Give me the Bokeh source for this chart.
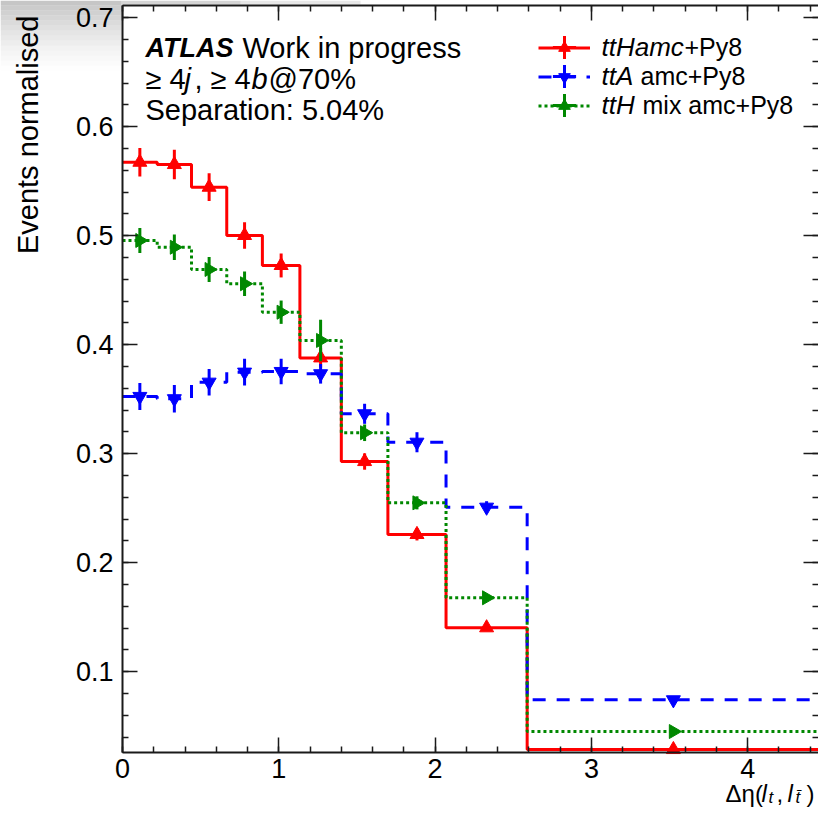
import math
from bokeh.plotting import figure
from bokeh.models import (Range1d, LinearAxis, SingleIntervalTicker, Label,
                          Legend, LegendItem, CustomJSTickFormatter, BoxAnnotation)
from bokeh.embed import file_html
from bokeh.resources import INLINE

# ---------------- data ----------------
bin_edges = [0.0, 0.222, 0.4415, 0.667, 0.895, 1.135, 1.40, 1.698, 2.07, 2.589, 4.46]

tth_amc = [0.5675, 0.5654, 0.5446, 0.5003, 0.4728, 0.388, 0.2929, 0.226, 0.1404, 0.0287]
tth_amc_err = [0.013, 0.0135, 0.0127, 0.0122, 0.011, 0.009, 0.0075, 0.0055, 0.003, 0.002]

tta_amc = [0.3526, 0.3505, 0.3657, 0.3749, 0.3755, 0.3734, 0.3367, 0.3106, 0.251, 0.0743]
tta_amc_err = [0.0124, 0.0127, 0.0122, 0.0122, 0.0117, 0.009, 0.0092, 0.0092, 0.0055, 0.003]

tth_mix = [0.4957, 0.4895, 0.4691, 0.456, 0.4299, 0.404, 0.3193, 0.255, 0.1679, 0.0452]
tth_mix_err = [0.0115, 0.0117, 0.0115, 0.0112, 0.0107, 0.019, 0.0076, 0.006, 0.003, 0.002]

x_ticks_interval = 1
y_ticks_interval = 0.1

# visible axis extents (the picture is a crop of a larger canvas)
x_lo, x_hi = 0.0, 4.453
y_lo, y_hi = 0.02596, 0.71128

FONT = "Liberation Sans"

centers = [(a + b) / 2 for a, b in zip(bin_edges[:-1], bin_edges[1:])]

W, H = 818, 825
FX0, FX1, FY0, FY1 = 122, 818, 752, 5          # frame box in page pixels
sx = (x_hi - x_lo) / (FX1 - FX0)
sy = (y_hi - y_lo) / (FY0 - FY1)

p = figure(width=W, height=H,
           x_range=Range1d(x_lo - FX0 * sx, x_hi + (W - FX1) * sx),
           y_range=Range1d(y_lo - (H - FY0) * sy, y_hi + FY1 * sy),
           x_axis_type=None, y_axis_type=None,
           output_backend="svg", toolbar_location=None,
           min_border_left=0, min_border_right=0,
           min_border_top=0, min_border_bottom=0)
p.outline_line_color = None
p.background_fill_color = "white"
p.border_fill_color = "white"

# faint grey shading in the top-left corner of the screenshot
for k in range(14):
    a = 0.6 * (1 - k / 14.0) ** 1.4
    p.add_layout(BoxAnnotation(left=0, right=FX0 - 1, top=H - 5 * k, bottom=H - 5 * k - 5,
                               left_units="screen", right_units="screen",
                               top_units="screen", bottom_units="screen",
                               fill_color="#a0a0a0", fill_alpha=a, line_color=None,
                               level="underlay"))
for k, (l, r) in enumerate([(FX0 - 1, 240), (240, 360)]):
    p.add_layout(BoxAnnotation(left=l, right=r, top=H, bottom=H - FY1 + 1,
                               left_units="screen", right_units="screen",
                               top_units="screen", bottom_units="screen",
                               fill_color="#a0a0a0", fill_alpha=0.45 - 0.2 * k,
                               line_color=None, level="underlay"))


def make_axis(interval, labels, loc, bounds, standoff=6):
    ax = LinearAxis(ticker=SingleIntervalTicker(interval=interval, num_minor_ticks=5),
                    fixed_location=loc, bounds=bounds)
    ax.major_tick_in = 15
    ax.major_tick_out = 0
    ax.minor_tick_in = 6
    ax.minor_tick_out = 0
    ax.axis_line_width = 2
    ax.axis_line_color = "#1a1a1a"
    ax.major_tick_line_width = 1.5
    ax.minor_tick_line_width = 1.5
    ax.major_tick_line_color = "#1a1a1a"
    ax.minor_tick_line_color = "#1a1a1a"
    if labels:
        ax.major_label_text_font = FONT
        ax.major_label_text_font_size = "27px"
        ax.major_label_text_color = "black"
        ax.major_label_standoff = standoff
    else:
        ax.formatter = CustomJSTickFormatter(code="return ''")
        ax.major_label_text_font_size = "0px"
        ax.major_label_standoff = 0
    return ax


p.add_layout(make_axis(x_ticks_interval, True, y_lo, (x_lo, x_hi), 6), "below")
p.add_layout(make_axis(y_ticks_interval, True, x_lo, (y_lo, y_hi), 9), "left")
p.add_layout(make_axis(x_ticks_interval, False, y_hi, (x_lo, x_hi)), "above")
yr = make_axis(y_ticks_interval, False, x_hi, (y_lo, y_hi))
yr.axis_line_color = None
p.add_layout(yr, "right")

series = [
    (tth_amc, tth_amc_err, "#ff0000", "solid", "triangle", 0.0),
    (tta_amc, tta_amc_err, "#0000ff", "13 11", "inverted_triangle", 0.0),
    (tth_mix, tth_mix_err, "#008800", "3 3", "triangle", -math.pi / 2),
]

items_a = []
for i, (vals, errs, col, dash, marker, ang) in enumerate(series):
    lr = p.step(x=bin_edges, y=vals + [vals[-1]], mode="after",
                line_color=col, line_width=3, line_dash=dash)
    lo = [v - e for v, e in zip(vals, errs)]
    hi = [v + e for v, e in zip(vals, errs)]
    p.segment(x0=centers, y0=lo, x1=centers, y1=hi, line_color=col, line_width=3)
    bar = p.scatter(x=centers, y=vals, marker="cross", size=1,
                    line_color=col, line_width=3)
    mr = p.scatter(x=centers, y=vals, marker=marker, angle=ang, size=14,
                   fill_color=col, line_color=col)
    items_a.append(LegendItem(label="", renderers=[lr, mr]))
    # one-entry legend that only draws the vertical error-bar of the swatch
    p.add_layout(Legend(items=[LegendItem(label="", renderers=[bar])],
                        location=(535, 749 - 29 * i), glyph_width=58, glyph_height=58,
                        spacing=0, padding=0, margin=0, label_standoff=0, label_width=0,
                        label_height=0, label_text_font_size="0px",
                        border_line_color=None, background_fill_alpha=0))

leg_a = Legend(items=items_a, location=(538, 705), glyph_width=52, glyph_height=29,
               spacing=0, padding=0, margin=0, label_standoff=0, label_width=0,
               label_height=0, label_text_font_size="0px",
               border_line_color=None, background_fill_alpha=0)
p.add_layout(leg_a)


def txt(s, x, y, size, style="normal", **kw):
    p.add_layout(Label(text=s, x=x, y=y, x_units="screen", y_units="screen",
                       text_font=FONT, text_font_size=size, text_font_style=style,
                       text_color="black", text_baseline="alphabetic", **kw))


# y-axis title, aligned to the top end of the axis (ROOT style)
txt("Events normalised", 27, 810, "29px", angle=math.pi / 2, text_align="right")

# x-axis title, aligned to the right end of the axis
txt("\u0394\u03b7(", 725, 32, "24px")
txt("l", 761, 32, "24px", "italic")
txt("t", 768, 28, "17px", "italic")
txt(",", 776, 32, "24px")
txt("l", 787, 32, "24px", "italic")
txt("t\u0304", 795, 28, "17px", "italic")
txt(")", 806, 32, "24px")

# ATLAS block
txt("ATLAS", 145, 778, "27px", "bold italic")
txt("Work in progress", 242, 778, "29px")
txt("\u2265 4", 145, 747, "29px")
txt("j", 184, 747, "29px", "italic")
txt(", \u2265 4", 194, 747, "29px")
txt("b", 251, 747, "29px", "italic")
txt("@70%", 268, 747, "29px")
txt("Separation: 5.04%", 145, 716, "29px")

# legend texts
txt("ttHamc", 601, 779, "26px", "italic")
txt("+Py8", 684, 779, "25px")
txt("ttA", 601, 750, "26px", "italic")
txt("amc+Py8", 640, 750, "25px")
txt("ttH", 601, 721, "26px", "italic")
txt("mix amc+Py8", 642, 721, "25px")

open("out.html", "w").write(file_html(p, INLINE))
